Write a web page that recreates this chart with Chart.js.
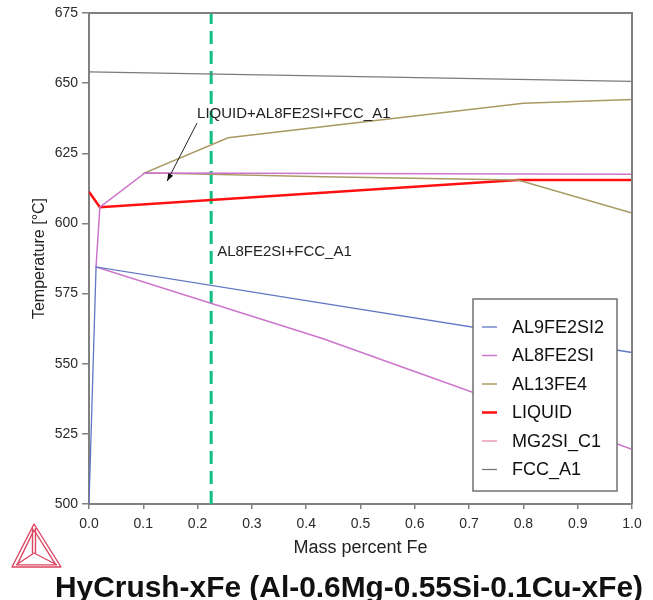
<!DOCTYPE html>
<html>
<head>
<meta charset="utf-8">
<title>HyCrush-xFe</title>
<script src="https://cdn.jsdelivr.net/npm/chart.js@4/dist/chart.umd.min.js"></script>
<style>
  html, body { margin: 0; padding: 0; background: #fff; }
  #wrap { width: 653px; height: 600px; position: relative; }
</style>
</head>
<body>
<div id="wrap"><canvas id="chart"></canvas></div>
<script>
/* ═══════════════════════════════════════════════════
   HyCrush-xFe — Al-0.6Mg-0.55Si-0.1Cu-xFe phase diagram
   ═══════════════════════════════════════════════════ */

// ─── Phase boundaries (mass percent Fe, °C) ───
const al9X  = [0.0, 0.013, 0.40, 1.0];
const al9Y  = [500, 584.5, 572.5, 554.0];

const al8X  = [1.0, 0.103, 0.020, 0.013, 0.43, 1.0];
const al8Y  = [617.5, 618.0, 605.8, 584.5, 559.0, 519.5];

const al13X = [1.0, 0.80, 0.256, 0.103, 0.43, 0.79, 1.0];
const al13Y = [644.2, 642.8, 630.5, 618.0, 616.6, 615.5, 603.7];

const liqX  = [0.0, 0.020, 0.79, 1.0];
const liqY  = [611.3, 605.8, 615.5, 615.5];

const mg2siX = [];
const mg2siY = [];

const fccX  = [0.0, 1.0];
const fccY  = [654.0, 650.6];

// alloy composition marker
const alloyX = [0.225, 0.225];
const alloyY = [500, 675];

// ─── Axis ranges ───
const xMin = 0, xMax = 1, xStep = 0.1;
const yMin = 500, yMax = 675, yStep = 25;

// ─── Region labels + arrow ───
const regionText = ['LIQUID+AL8FE2SI+FCC_A1', 'AL8FE2SI+FCC_A1'];
const regionX    = [0.199, 0.236];
const regionY    = [639.2, 589.9];
const arrowFrom  = [0.199, 635.8];
const arrowTo    = [0.144, 615.1];

const FONT = "'Liberation Sans', Arial, Helvetica, sans-serif";
Chart.defaults.font.family = FONT;

const zip = (xs, ys) => xs.map((x, i) => ({ x, y: ys[i] }));

function series(label, xs, ys, color, width) {
  return {
    label, data: zip(xs, ys), borderColor: color, backgroundColor: color,
    borderWidth: width, pointRadius: 0, tension: 0, fill: false
  };
}

const datasets = [
  series('AL9FE2SI2', al9X, al9Y, '#6076c4', 1.3),
  series('AL8FE2SI', al8X, al8Y, '#cc74cc', 1.5),
  series('AL13FE4', al13X, al13Y, '#a89a62', 1.5),
  series('LIQUID', liqX, liqY, '#ff1010', 2.5),
  series('MG2SI_C1', mg2siX, mg2siY, '#e89ab4', 1.5),
  series('FCC_A1', fccX, fccY, '#7a7a7a', 1.3),
  { ...series('', alloyX, alloyY, '#10c080', 3), borderDash: [13, 7], inLegend: false }
];

// ─── Frame, labels, legend, title, logo ───
const decorations = {
  id: 'decorations',
  afterDraw(chart) {
    const { ctx, chartArea: a, scales: { x, y } } = chart;
    ctx.save();

    // top + right frame
    ctx.strokeStyle = '#808080';
    ctx.lineWidth = 2;
    ctx.beginPath();
    ctx.moveTo(a.left, a.top);
    ctx.lineTo(a.right, a.top);
    ctx.lineTo(a.right, a.bottom);
    ctx.stroke();

    // region labels
    ctx.font = '15px ' + FONT;
    ctx.fillStyle = '#222';
    ctx.textAlign = 'left';
    ctx.textBaseline = 'middle';
    regionText.forEach((t, i) => ctx.fillText(t, x.getPixelForValue(regionX[i]), y.getPixelForValue(regionY[i])));

    // arrow
    const x0 = x.getPixelForValue(arrowFrom[0]), y0 = y.getPixelForValue(arrowFrom[1]);
    const x1 = x.getPixelForValue(arrowTo[0]), y1 = y.getPixelForValue(arrowTo[1]);
    const ang = Math.atan2(y1 - y0, x1 - x0);
    ctx.strokeStyle = '#222';
    ctx.lineWidth = 1;
    ctx.beginPath(); ctx.moveTo(x0, y0); ctx.lineTo(x1, y1); ctx.stroke();
    ctx.fillStyle = '#111';
    ctx.beginPath();
    ctx.moveTo(x1, y1);
    ctx.lineTo(x1 - 8 * Math.cos(ang - 0.35), y1 - 8 * Math.sin(ang - 0.35));
    ctx.lineTo(x1 - 8 * Math.cos(ang + 0.35), y1 - 8 * Math.sin(ang + 0.35));
    ctx.closePath(); ctx.fill();

    // legend box
    const items = chart.data.datasets.filter(d => d.inLegend !== false);
    const bx = a.right - 159, by = a.bottom - 205, bw = 144, bh = 192;
    ctx.fillStyle = '#fff';
    ctx.fillRect(bx, by, bw, bh);
    ctx.strokeStyle = '#707070';
    ctx.lineWidth = 1.5;
    ctx.strokeRect(bx, by, bw, bh);
    ctx.font = '18px ' + FONT;
    items.forEach((d, i) => {
      const ry = by + 28 + i * 28.5;
      ctx.strokeStyle = d.borderColor;
      ctx.lineWidth = d.borderWidth;
      ctx.beginPath(); ctx.moveTo(bx + 9, ry); ctx.lineTo(bx + 24, ry); ctx.stroke();
      ctx.fillStyle = '#111';
      ctx.fillText(d.label, bx + 39, ry + 1);
    });

    // title
    ctx.font = 'bold 30px ' + FONT;
    ctx.fillStyle = '#111';
    ctx.textBaseline = 'alphabetic';
    ctx.fillText('HyCrush-xFe (Al-0.6Mg-0.55Si-0.1Cu-xFe)', 55, 597, 588);

    // logo (tetrahedron seen from above)
    const top = [34, 524], bl = [12, 567], br = [61, 567], mid = [34, 553];
    ctx.strokeStyle = '#dc4662';
    ctx.lineWidth = 1.4;
    ctx.lineJoin = 'round';
    [0, 3].forEach(k => {
      ctx.beginPath();
      ctx.moveTo(top[0], top[1] + k * 2);
      ctx.lineTo(bl[0] + k * 1.7, bl[1] - k * 0.7);
      ctx.lineTo(br[0] - k * 1.7, br[1] - k * 0.7);
      ctx.closePath(); ctx.stroke();
    });
    ctx.beginPath();
    ctx.moveTo(top[0] - 1.5, top[1] + 4); ctx.lineTo(mid[0] - 1.5, mid[1]);
    ctx.moveTo(top[0] + 1.5, top[1] + 4); ctx.lineTo(mid[0] + 1.5, mid[1]);
    ctx.moveTo(mid[0], mid[1]); ctx.lineTo(bl[0] + 4, bl[1] - 2);
    ctx.moveTo(mid[0], mid[1]); ctx.lineTo(br[0] - 4, br[1] - 2);
    ctx.stroke();

    ctx.restore();
  }
};

new Chart(document.getElementById('chart'), {
  type: 'line',
  data: { datasets },
  options: {
    responsive: true,
    maintainAspectRatio: false,
    animation: false,
    layout: { padding: { top: 13, right: 21, left: 0, bottom: 0 } },
    plugins: { legend: { display: false }, tooltip: { enabled: false }, title: { display: false } },
    scales: {
      x: {
        type: 'linear', min: xMin, max: xMax,
        afterFit: s => { s.height = 96; },
        border: { display: true, color: '#808080', width: 2 },
        grid: { drawOnChartArea: false, drawTicks: true, tickLength: 5, color: '#808080', lineWidth: 1.5 },
        ticks: { stepSize: xStep, padding: 7, color: '#2a2a2a', font: { size: 14 }, callback: v => v.toFixed(1) },
        title: { display: true, text: 'Mass percent Fe', color: '#222', font: { size: 18 }, padding: { bottom: 41 } }
      },
      y: {
        type: 'linear', min: yMin, max: yMax,
        afterFit: s => { s.width = 89; },
        border: { display: true, color: '#808080', width: 2 },
        grid: { drawOnChartArea: false, drawTicks: true, tickLength: 7, color: '#808080', lineWidth: 1.5 },
        ticks: { stepSize: yStep, padding: 4, color: '#2a2a2a', font: { size: 14 } },
        title: { display: true, text: 'Temperature [°C]', color: '#222', font: { size: 16 }, padding: { top: 30 } }
      }
    }
  },
  plugins: [decorations]
});
</script>
</body>
</html>
